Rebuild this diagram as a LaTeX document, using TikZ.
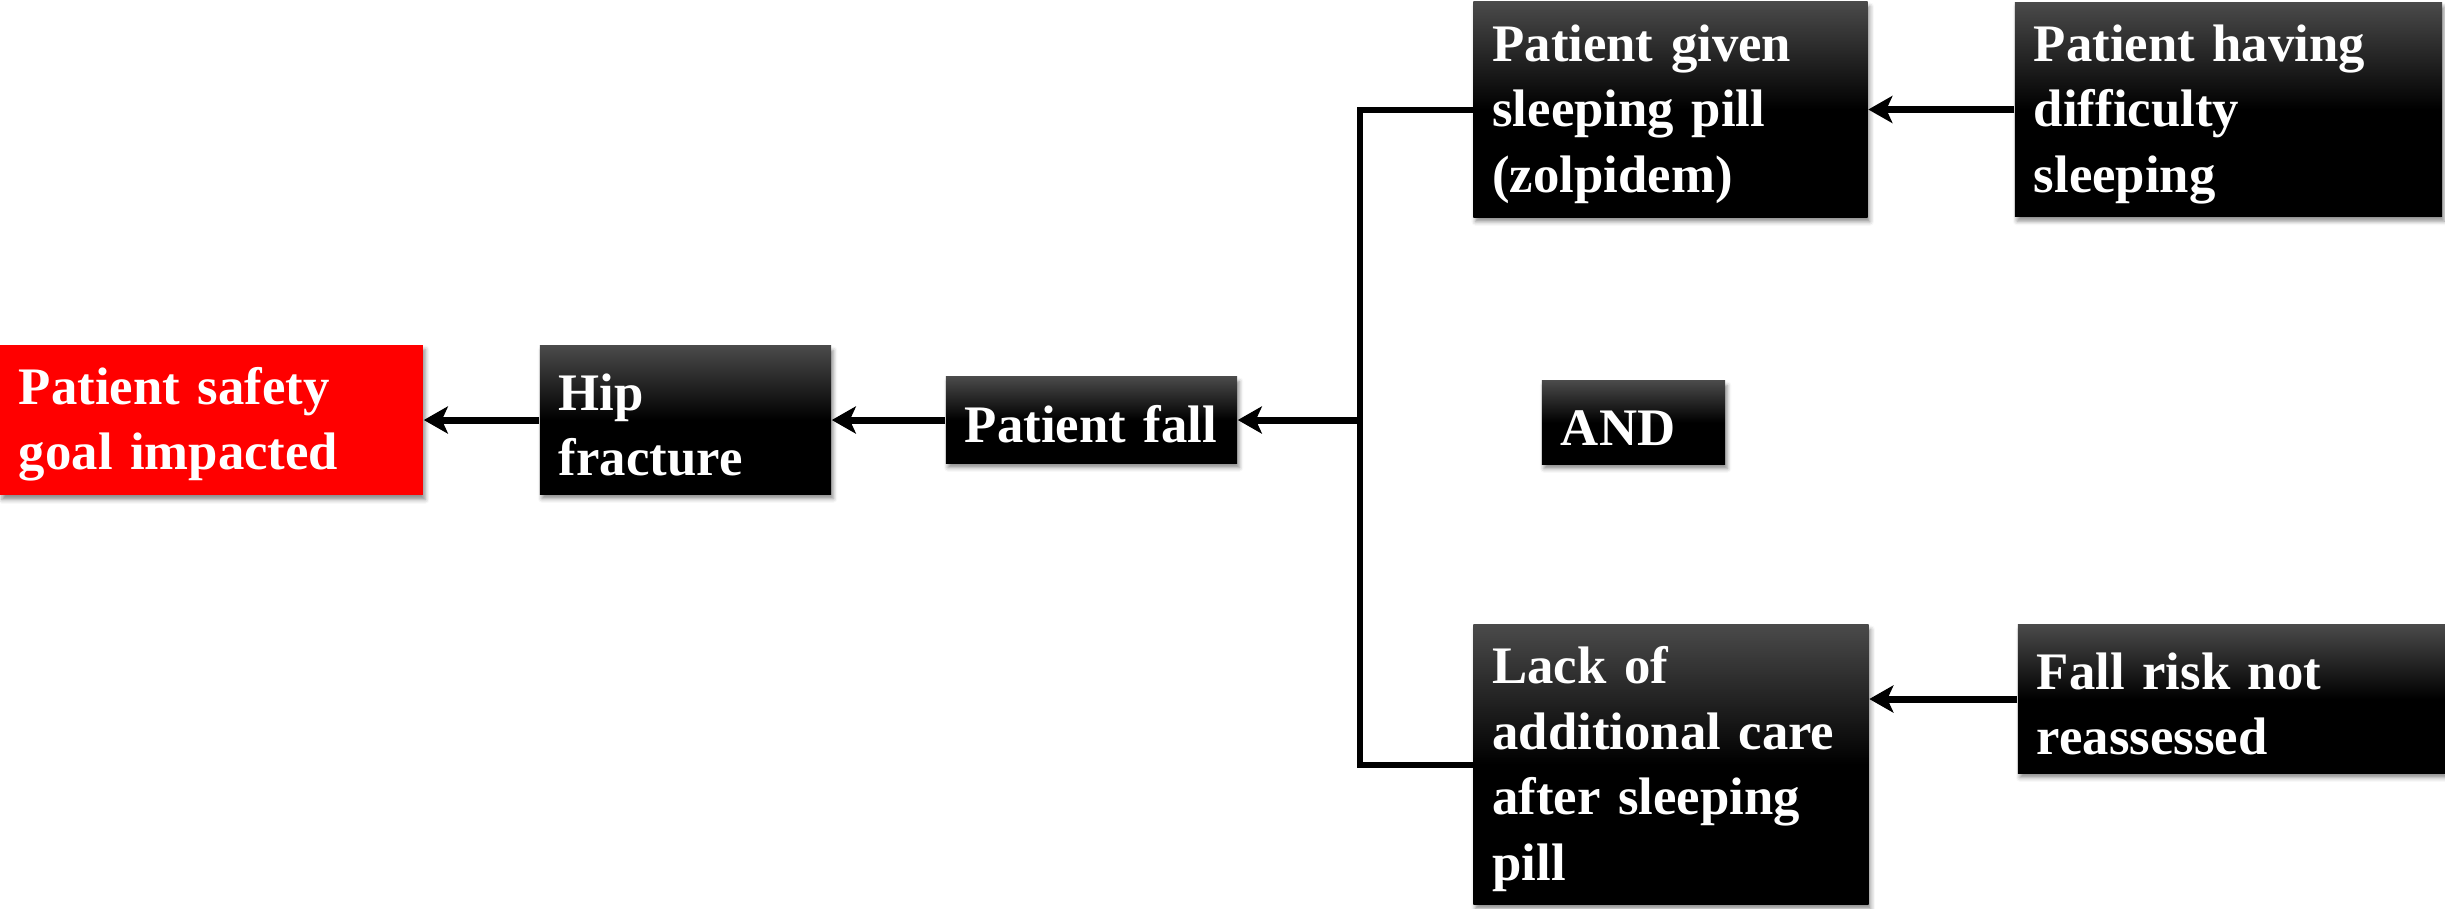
\documentclass[tikz,border=0pt]{standalone}
\usepackage{fontspec}
\setmainfont{Liberation Serif}
\usetikzlibrary{arrows.meta,shadows.blur}

\definecolor{boxtop}{HTML}{4A4A4A}
\pgfdeclareverticalshading{boxshade}{100bp}{color(0bp)=(black); color(25bp)=(black); color(50bp)=(black); color(75bp)=(boxtop); color(100bp)=(boxtop)}

\tikzset{
  box/.style={rectangle, text=white, align=left, inner xsep=0.19cm, inner ysep=0pt,
    font=\bfseries\fontsize{15}{18.6}\selectfont,
    execute at begin node={\rule{0pt}{0.46cm}},
    blur shadow={shadow xshift=0.6pt, shadow yshift=-1.3pt, shadow blur radius=1.2pt, shadow opacity=45}},
  darkbox/.style={box, shading=boxshade},
  redbox/.style={box, fill=red},
  dims/.style 2 args={text width=#1cm-0.38cm, minimum height=#2cm},
  conn/.style={line width=0.06cm, line join=miter},
  arr/.style={line width=0.07cm, -{Stealth[length=0.24cm, width=0.27cm, inset=0.06cm]}},
}

\begin{document}
\begin{tikzpicture}[x=0.01cm, y=-0.01cm]
  \useasboundingbox (0,0) rectangle (2445,908);

  % boxes
  \node[redbox, dims={4.23}{1.50}]  (goal)  at (211.5,420) {Patient safety\\goal impacted};
  \node[darkbox, dims={2.91}{1.48}] (hip)   at (685.5,420) {Hip\\fracture};
  \node[darkbox, dims={2.91}{0.86}] (fall)  at (1091.5,420) {Patient fall};
  \node[darkbox, dims={3.94}{2.15}] (pill)  at (1670.5,109.5) {Patient given\\sleeping pill\\(zolpidem)};
  \node[darkbox, dims={4.27}{2.14}] (sleep) at (2228.5,109.5) {Patient having\\difficulty\\sleeping};
  \node[darkbox, dims={1.83}{0.83}] (and)   at (1633.5,422.5) {AND};
  \node[darkbox, dims={3.95}{2.79}] (care)  at (1671,764.5) {Lack of\\additional care\\after sleeping\\pill};
  \node[darkbox, dims={4.27}{1.48}] (risk)  at (2231.5,699) {Fall risk not\\reassessed};

  % bracket joining the two causes
  \coordinate (jn) at (1360,420);
  \draw[conn] (pill.west) -| (jn) |- (care.west);

  % arrows
  \draw[arr] (jn) -- (fall.east);
  \draw[arr] (fall.west) -- (hip.east);
  \draw[arr] (hip.west) -- (goal.east);
  \draw[arr] (sleep.west) -- (pill.east);
  \draw[arr] (risk.west) -- (risk.west -| care.east);
\end{tikzpicture}
\end{document}
